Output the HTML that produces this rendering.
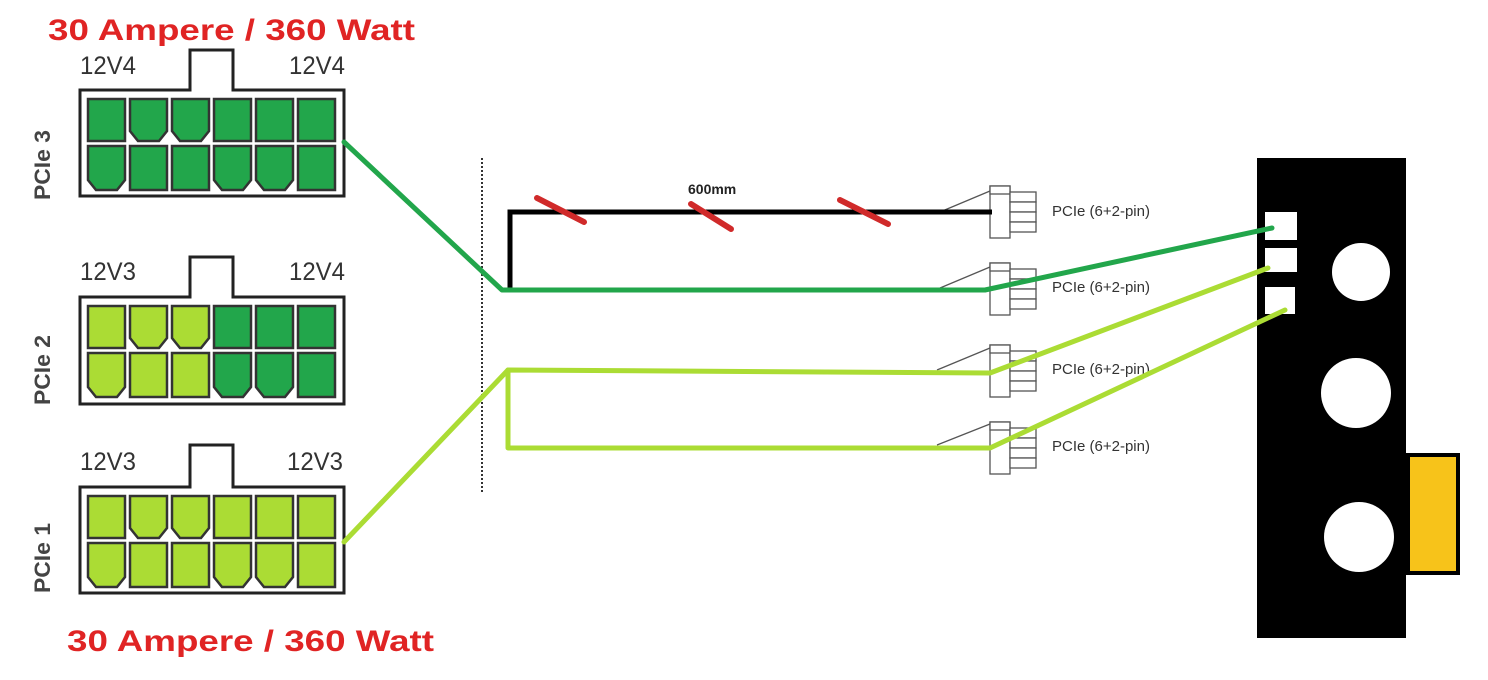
<!DOCTYPE html>
<html><head><style>html,body{margin:0;padding:0;background:#fff}svg{display:block}</style></head>
<body>
<svg width="1488" height="680" viewBox="0 0 1488 680" xmlns="http://www.w3.org/2000/svg" font-family="Liberation Sans, sans-serif">
<defs>
<path id="sq" d="M0,0H37V42H0Z" stroke="#333" stroke-width="2.5"/>
<path id="ch" d="M0,0H37V32L29,42H8L0,32Z" stroke="#333" stroke-width="2.5"/>
<path id="sqb" d="M0,0H37V44H0Z" stroke="#333" stroke-width="2.5"/>
<path id="chb" d="M0,0H37V34L29,44H8L0,34Z" stroke="#333" stroke-width="2.5"/>
<g id="pc">
<rect x="0" y="0" width="20" height="52" fill="#fff" stroke="#555" stroke-width="1.3"/>
<rect x="0" y="0" width="20" height="8" fill="#fff" stroke="#555" stroke-width="1.3"/>
<rect x="20" y="6" width="26" height="10" fill="#fff" stroke="#555" stroke-width="1.3"/>
<rect x="20" y="16" width="26" height="10" fill="#fff" stroke="#555" stroke-width="1.3"/>
<rect x="20" y="26" width="26" height="10" fill="#fff" stroke="#555" stroke-width="1.3"/>
<rect x="20" y="36" width="26" height="10" fill="#fff" stroke="#555" stroke-width="1.3"/>
</g>
</defs>

<!-- titles -->
<text x="48" y="40" font-size="30" font-weight="bold" fill="#e02424" textLength="367" lengthAdjust="spacingAndGlyphs">30 Ampere / 360 Watt</text>
<text x="67" y="651" font-size="30" font-weight="bold" fill="#e02424" textLength="367" lengthAdjust="spacingAndGlyphs">30 Ampere / 360 Watt</text>

<!-- connector 3 -->
<g>
<path d="M80,90H190V50H233V90H344V196H80Z" fill="#fff" stroke="#222" stroke-width="3"/>
<text x="80" y="74" font-size="25" fill="#333" textLength="56" lengthAdjust="spacingAndGlyphs">12V4</text>
<text x="289" y="74" font-size="25" fill="#333" textLength="56" lengthAdjust="spacingAndGlyphs">12V4</text>
<text transform="translate(50,200) rotate(-90)" font-size="22" font-weight="bold" fill="#444" textLength="70" lengthAdjust="spacingAndGlyphs">PCIe 3</text>
<g fill="#22a64b">
<use href="#sq" x="88" y="99"/><use href="#ch" x="130" y="99"/><use href="#ch" x="172" y="99"/><use href="#sq" x="214" y="99"/><use href="#sq" x="256" y="99"/><use href="#sq" x="298" y="99"/>
<use href="#chb" x="88" y="146"/><use href="#sqb" x="130" y="146"/><use href="#sqb" x="172" y="146"/><use href="#chb" x="214" y="146"/><use href="#chb" x="256" y="146"/><use href="#sqb" x="298" y="146"/>
</g>
</g>

<!-- connector 2 -->
<g>
<path d="M80,297H190V257H233V297H344V404H80Z" fill="#fff" stroke="#222" stroke-width="3"/>
<text x="80" y="280" font-size="25" fill="#333" textLength="56" lengthAdjust="spacingAndGlyphs">12V3</text>
<text x="289" y="280" font-size="25" fill="#333" textLength="56" lengthAdjust="spacingAndGlyphs">12V4</text>
<text transform="translate(50,405) rotate(-90)" font-size="22" font-weight="bold" fill="#444" textLength="70" lengthAdjust="spacingAndGlyphs">PCIe 2</text>
<g fill="#abdc34">
<use href="#sq" x="88" y="306"/><use href="#ch" x="130" y="306"/><use href="#ch" x="172" y="306"/>
<use href="#chb" x="88" y="353"/><use href="#sqb" x="130" y="353"/><use href="#sqb" x="172" y="353"/>
</g>
<g fill="#22a64b">
<use href="#sq" x="214" y="306"/><use href="#sq" x="256" y="306"/><use href="#sq" x="298" y="306"/>
<use href="#chb" x="214" y="353"/><use href="#chb" x="256" y="353"/><use href="#sqb" x="298" y="353"/>
</g>
</g>

<!-- connector 1 -->
<g>
<path d="M80,487H190V445H233V487H344V593H80Z" fill="#fff" stroke="#222" stroke-width="3"/>
<text x="80" y="470" font-size="25" fill="#333" textLength="56" lengthAdjust="spacingAndGlyphs">12V3</text>
<text x="287" y="470" font-size="25" fill="#333" textLength="56" lengthAdjust="spacingAndGlyphs">12V3</text>
<text transform="translate(50,593) rotate(-90)" font-size="22" font-weight="bold" fill="#444" textLength="70" lengthAdjust="spacingAndGlyphs">PCIe 1</text>
<g fill="#abdc34">
<use href="#sq" x="88" y="496"/><use href="#ch" x="130" y="496"/><use href="#ch" x="172" y="496"/><use href="#sq" x="214" y="496"/><use href="#sq" x="256" y="496"/><use href="#sq" x="298" y="496"/>
<use href="#chb" x="88" y="543"/><use href="#sqb" x="130" y="543"/><use href="#sqb" x="172" y="543"/><use href="#chb" x="214" y="543"/><use href="#chb" x="256" y="543"/><use href="#sqb" x="298" y="543"/>
</g>
</g>

<!-- dashed line -->
<line x1="482" y1="158" x2="482" y2="494" stroke="#333" stroke-width="2" stroke-dasharray="2,2"/>

<!-- PCIe plugs -->
<g stroke="#555" stroke-width="1.3">
<line x1="940" y1="212" x2="990" y2="191"/>
<line x1="940" y1="288" x2="990" y2="267"/>
<line x1="937" y1="370" x2="990" y2="348"/>
<line x1="937" y1="445" x2="990" y2="424"/>
</g>
<use href="#pc" x="990" y="186"/>
<use href="#pc" x="990" y="263"/>
<use href="#pc" x="990" y="345"/>
<use href="#pc" x="990" y="422"/>
<g font-size="15" fill="#333">
<text x="1052" y="216">PCIe (6+2-pin)</text>
<text x="1052" y="292">PCIe (6+2-pin)</text>
<text x="1052" y="374">PCIe (6+2-pin)</text>
<text x="1052" y="451">PCIe (6+2-pin)</text>
</g>

<!-- black cable -->
<polyline points="510,290 510,212 992,212" fill="none" stroke="#000" stroke-width="5"/>
<text x="688" y="194" font-size="14" font-weight="bold" fill="#222">600mm</text>
<g stroke="#d02a2a" stroke-width="6" stroke-linecap="round">
<line x1="537" y1="198" x2="584" y2="222"/>
<line x1="691" y1="204" x2="731" y2="229"/>
<line x1="840" y1="200" x2="888" y2="224"/>
</g>

<!-- card -->
<rect x="1257" y="158" width="149" height="480" fill="#000"/>
<rect x="1408" y="455" width="50" height="118" fill="#f7c31a" stroke="#000" stroke-width="4"/>
<rect x="1265" y="212" width="32" height="28" fill="#fff"/>
<rect x="1265" y="248" width="32" height="24" fill="#fff"/>
<rect x="1265" y="287" width="30" height="27" fill="#fff"/>
<circle cx="1361" cy="272" r="29" fill="#fff"/>
<circle cx="1356" cy="393" r="35" fill="#fff"/>
<circle cx="1359" cy="537" r="35" fill="#fff"/>

<!-- green cables -->
<polyline points="344,142 502,290 985,290 1272,228" fill="none" stroke="#22a64b" stroke-width="5" stroke-linejoin="round" stroke-linecap="round"/>
<polyline points="344,542 508,370 990,373 1268,268" fill="none" stroke="#abdc34" stroke-width="5" stroke-linejoin="round" stroke-linecap="round"/>
<polyline points="508,370 508,448 990,448 1285,310" fill="none" stroke="#abdc34" stroke-width="5" stroke-linejoin="round" stroke-linecap="round"/>
</svg>
</body></html>
